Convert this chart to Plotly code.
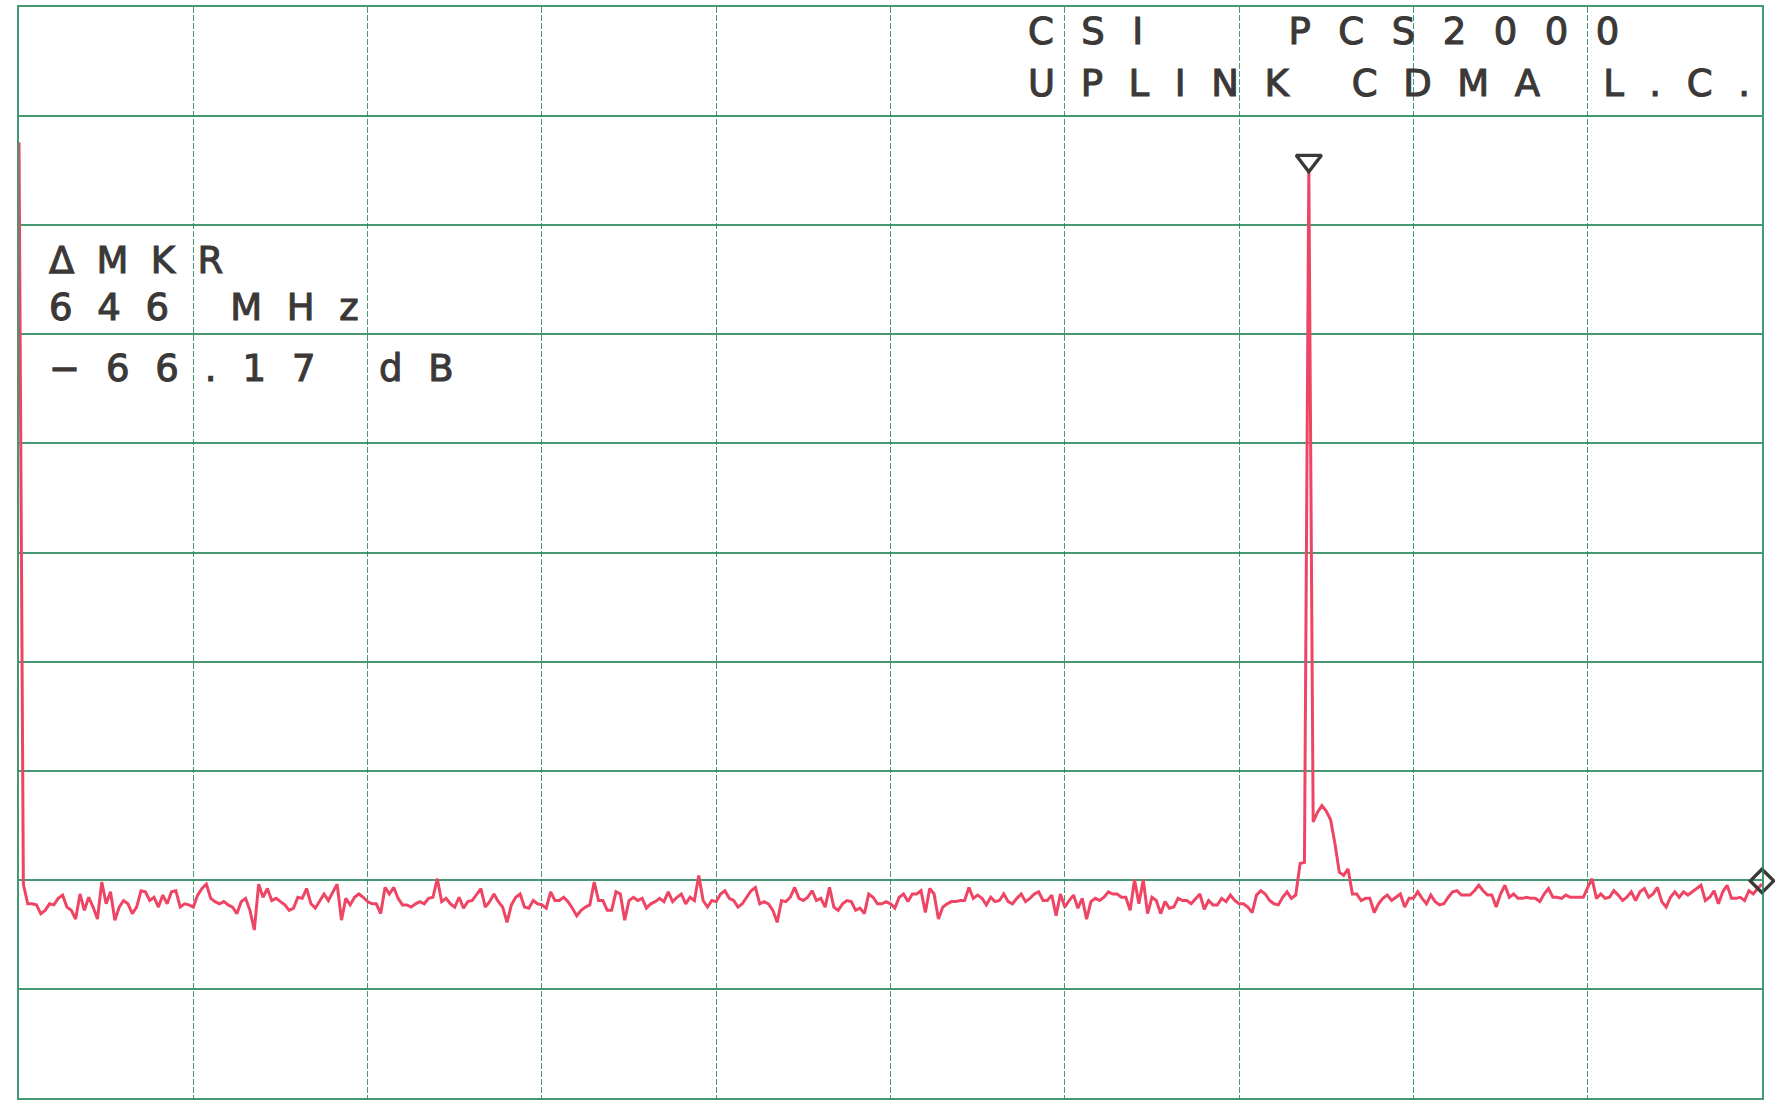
import numpy as np
import plotly.graph_objects as go

# ---- data ----
sweep_start_mhz = 0.0
sweep_stop_mhz = 2500.0

# trace levels in dB (401 sweep points, 10 dB/div, ref level 0 dB at top)
levels_db = [
    -12.4, -80.4, -82.2, -82.2, -82.3, -83.1, -82.8, -82.2, -82.3, -81.7,
    -81.4, -82.5, -82.8, -83.6, -81.3, -82.8, -81.6, -82.5, -83.6, -80.2,
    -82.2, -81.1, -83.7, -82.5, -81.9, -82.2, -83.1, -82.5, -81.0, -81.1,
    -81.9, -81.6, -82.5, -81.4, -82.2, -81.1, -81.0, -82.5, -82.2, -82.3,
    -82.5, -81.4, -80.8, -80.4, -81.7, -82.0, -82.2, -82.0, -82.3, -82.5,
    -83.1, -82.0, -81.7, -82.8, -84.6, -80.4, -81.6, -80.8, -81.9, -81.7,
    -82.0, -82.3, -82.8, -82.6, -81.6, -81.7, -80.8, -82.2, -82.6, -82.0,
    -81.3, -81.9, -81.1, -80.4, -83.7, -81.7, -82.3, -81.6, -81.3, -81.6,
    -82.0, -82.2, -82.2, -83.1, -80.7, -81.3, -80.7, -81.7, -82.3, -82.3,
    -82.5, -82.2, -82.0, -82.2, -81.7, -81.6, -79.9, -82.0, -81.7, -82.2,
    -82.5, -81.6, -82.6, -82.0, -81.9, -81.4, -80.8, -82.5, -82.0, -81.3,
    -82.0, -82.5, -83.9, -82.3, -81.6, -81.3, -82.5, -82.6, -81.9, -82.2,
    -82.3, -82.6, -81.1, -81.9, -81.9, -81.6, -82.0, -82.6, -83.3, -82.8,
    -82.5, -82.3, -80.2, -81.9, -81.9, -82.8, -82.8, -81.1, -81.3, -83.7,
    -81.9, -81.6, -81.9, -81.7, -82.6, -82.2, -82.0, -81.7, -82.0, -81.1,
    -82.0, -81.6, -81.3, -82.2, -81.6, -81.9, -79.6, -81.9, -82.5, -81.9,
    -82.0, -81.3, -81.0, -81.7, -81.9, -82.5, -82.2, -81.6, -81.0, -80.7,
    -82.2, -82.0, -82.2, -82.8, -83.9, -81.9, -82.0, -81.6, -80.7, -81.7,
    -81.9, -81.6, -81.0, -81.9, -81.7, -82.5, -80.7, -82.5, -82.8, -82.2,
    -81.9, -82.0, -82.8, -82.6, -83.1, -81.3, -81.6, -82.2, -82.2, -82.0,
    -82.2, -82.6, -81.6, -81.3, -82.0, -81.3, -81.3, -81.0, -83.0, -80.8,
    -81.3, -83.6, -82.5, -82.2, -82.0, -82.0, -81.9, -81.9, -80.7, -81.7,
    -81.4, -81.7, -82.3, -81.6, -82.0, -81.9, -81.3, -82.0, -82.2, -81.7,
    -81.3, -82.0, -81.7, -81.3, -81.1, -81.9, -81.9, -81.4, -83.3, -81.3,
    -82.5, -81.9, -81.4, -82.6, -81.7, -83.6, -82.0, -81.7, -81.9, -81.6,
    -81.1, -81.3, -81.3, -81.6, -81.6, -82.8, -80.0, -82.2, -80.0, -83.1,
    -81.6, -81.9, -83.1, -82.0, -82.6, -82.5, -81.7, -81.9, -81.9, -82.2,
    -81.7, -81.3, -82.7, -81.9, -82.3, -82.3, -81.7, -82.0, -81.4, -81.9,
    -82.2, -82.2, -82.5, -83.0, -81.4, -81.0, -81.3, -81.9, -82.2, -82.3,
    -81.6, -81.1, -81.7, -81.4, -78.5, -78.4, -15.1, -74.7, -73.8, -73.2,
    -73.7, -74.5, -76.7, -79.3, -79.6, -79.0, -81.3, -81.3, -81.9, -81.7,
    -81.7, -83.0, -82.2, -81.7, -81.4, -81.9, -81.6, -81.3, -82.5, -81.7,
    -81.7, -81.1, -81.7, -82.2, -81.4, -82.0, -82.3, -82.2, -81.6, -81.1,
    -81.0, -81.4, -81.4, -81.4, -81.0, -80.5, -81.0, -81.4, -81.4, -82.5,
    -81.3, -80.5, -81.6, -81.3, -81.7, -81.7, -81.6, -81.7, -81.7, -82.0,
    -81.3, -80.8, -81.6, -81.6, -81.7, -81.4, -81.6, -81.6, -81.6, -81.6,
    -80.7, -79.9, -81.7, -81.3, -81.7, -81.6, -81.0, -81.4, -81.9, -81.6,
    -81.1, -81.9, -81.1, -80.8, -81.6, -81.3, -80.7, -82.0, -82.5, -81.6,
    -81.1, -81.6, -81.1, -81.4, -81.1, -80.8, -80.5, -81.9, -81.6, -81.0,
    -82.2, -81.1, -80.5, -81.7, -81.7, -81.6, -81.9, -81.0, -81.3, -80.8,
    -80.4,
]

delta_marker_mhz = [1850.0]
delta_marker_db = [-15.1]
ref_marker_mhz = [2500.0]
ref_marker_db = [-80.1]

title_lines = ["CSI\u00a0\u00a0\u00a0PCS2000", "UPLINK\u00a0CDMA\u00a0L.C."]
marker_lines = ["\u0394MKR", "646\u00a0MHz", "\u221266.17\u00a0dB"]

# ---- figure ----
freqs = np.linspace(sweep_start_mhz, sweep_stop_mhz, len(levels_db))

TRACE = "#ee4565"
GRID = "rgba(35,135,90,0.85)"
INK = "#3b3838"

fig = go.Figure()
fig.add_trace(go.Scatter(x=freqs, y=levels_db, mode="lines",
                         line=dict(color=TRACE, width=3), hoverinfo="skip"))
# delta marker (triangle whose tip sits on the peak)
fig.add_trace(go.Scatter(x=delta_marker_mhz, y=[v + 1.0 for v in delta_marker_db],
                         mode="markers", cliponaxis=False,
                         marker=dict(symbol="triangle-down-open", size=22,
                                     color=INK, line=dict(color=INK, width=3.4))))
fig.add_trace(go.Scatter(x=ref_marker_mhz, y=ref_marker_db, mode="markers",
                         cliponaxis=False,
                         marker=dict(symbol="diamond-open", size=18,
                                     color=INK, line=dict(color=INK, width=3.4))))

L, R, T, B = 19, 13, 5, 12
W, H = 1775, 1110
pw, ph = W - L - R, H - T - B


def px(xp):
    return (xp - L) / pw


def py(yp):
    return (H - B - yp) / ph


FONT = dict(family="DejaVu Sans", size=37, color=INK)
SPAN = ('<span style="letter-spacing:{}px;stroke:' + INK +
        ';stroke-width:1.1px">{}</span>')

anns = []
for txt, yc, sp in zip(title_lines, [30, 82], [27.5, 25.6]):
    anns.append(dict(text=SPAN.format(sp, txt), x=px(1026), y=py(yc), xref="paper", yref="paper",
                     xanchor="left", yanchor="middle", showarrow=False, font=FONT))
for txt, yc, sp in zip(marker_lines, [259, 306, 367], [22.3, 24.7, 25.9]):
    anns.append(dict(text=SPAN.format(sp, txt), x=px(47), y=py(yc), xref="paper", yref="paper",
                     xanchor="left", yanchor="middle", showarrow=False, font=FONT))

fig.update_layout(
    width=W, height=H,
    margin=dict(l=L, r=R, t=T, b=B, pad=0),
    paper_bgcolor="white", plot_bgcolor="white",
    showlegend=False,
    annotations=anns,
    xaxis=dict(range=[sweep_start_mhz, sweep_stop_mhz], tick0=0, dtick=250,
               showgrid=True, gridcolor=GRID, gridwidth=1.3, griddash="6px,2px",
               showticklabels=False, ticks="", zeroline=False,
               showline=True, linecolor=GRID, linewidth=1.6, mirror=True),
    yaxis=dict(range=[-100, 0], tick0=0, dtick=10,
               showgrid=True, gridcolor=GRID, gridwidth=1.8,
               showticklabels=False, ticks="", zeroline=False,
               showline=True, linecolor=GRID, linewidth=1.8, mirror=True),
)

fig.write_html("out.html", config={"displayModeBar": False},
               post_script="document.body.style.margin='0';document.body.style.overflow='hidden';")
